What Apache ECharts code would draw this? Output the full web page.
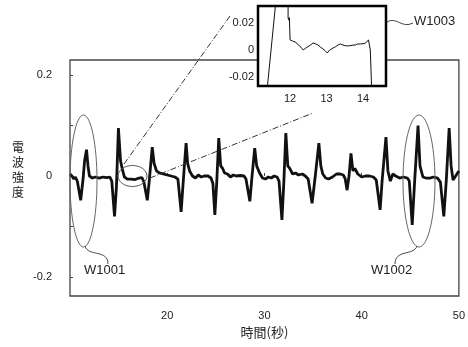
<!DOCTYPE html>
<html><head><meta charset="utf-8">
<script src="https://cdn.jsdelivr.net/npm/echarts@6/dist/echarts.min.js"></script>
<style>html,body{margin:0;padding:0;background:#fff}#c{width:468px;height:347px}</style>
</head><body><div id="c"></div>
<script>
// main waveform (time in s, intensity)
const mainT = [10.0,10.2,10.4,10.55,10.75,11.1,11.35,11.5,11.7,11.85,12.0,12.3,12.6,13.0,13.4,13.8,14.1,14.3,14.58,14.78,14.98,15.2,15.4,15.6,15.9,16.3,16.7,17.1,17.4,17.6,17.95,18.15,18.46,18.65,18.9,19.2,19.6,20.0,20.4,20.8,21.1,21.43,21.65,21.94,22.1,22.3,22.6,22.9,23.2,23.5,23.8,24.2,24.5,24.7,24.9,25.1,25.3,25.5,25.7,25.9,26.2,26.5,26.8,27.1,27.5,27.9,28.1,28.5,28.7,29.0,29.2,29.5,29.8,30.1,30.4,30.7,31.0,31.3,31.5,31.8,32.0,32.2,32.4,32.6,32.9,33.2,33.5,33.9,34.2,34.5,34.9,35.2,35.6,35.8,36.0,36.3,36.6,37.0,37.4,37.8,38.1,38.3,38.5,38.7,38.9,39.1,39.3,39.6,40.0,40.4,40.8,41.2,41.5,41.9,42.1,42.5,42.7,42.95,43.2,43.5,43.9,44.3,44.7,44.9,45.2,45.45,45.8,46.0,46.3,46.6,47.0,47.4,47.8,48.1,48.45,48.7,49.0,49.2,49.4,49.6,49.8,50.0];
const mainV = [0.004,0.0,-0.006,-0.002,-0.01,-0.048,-0.005,0.03,0.052,0.02,0.0,-0.004,-0.002,-0.004,-0.002,-0.003,-0.002,-0.01,-0.08,-0.02,0.095,0.03,0.012,-0.002,-0.006,-0.006,-0.007,-0.004,-0.003,-0.012,-0.048,-0.01,0.057,0.025,0.01,0.006,0.004,0.002,0.0,-0.002,-0.006,-0.071,-0.01,0.065,0.025,0.01,0.0,-0.004,0.002,-0.002,0.0,0.0,-0.004,-0.015,-0.077,-0.01,0.075,0.02,0.015,0.006,0.004,-0.002,0.002,0.0,0.001,0.0,-0.006,-0.05,-0.005,0.055,0.02,0.006,-0.004,-0.006,-0.002,-0.004,0.0,-0.002,-0.01,-0.087,-0.01,0.085,0.02,0.015,0.004,0.006,0.002,0.004,0.0,-0.006,-0.054,-0.005,0.065,0.02,0.004,-0.004,-0.006,-0.002,0.004,0.004,0.002,-0.005,-0.028,0.0,0.045,0.01,0.015,0.004,-0.002,0.0,0.0,-0.002,-0.008,-0.067,-0.01,0.077,0.01,-0.01,0.004,0.0,-0.004,-0.002,-0.004,-0.01,-0.097,-0.01,0.1,0.02,-0.002,-0.004,-0.004,-0.002,-0.004,-0.012,-0.08,-0.01,0.095,0.02,-0.008,-0.006,0.004,0.01];
// inset (enlarged) waveform
const insetT = [11.36,11.61,11.75,11.945,11.945,11.96,11.97,11.98,12.0,12.07,12.14,12.22,12.3,12.36,12.42,12.47,12.55,12.63,12.7,12.76,12.83,12.9,12.96,13.02,13.08,13.13,13.18,13.25,13.32,13.38,13.43,13.5,13.55,13.6,13.65,13.7,13.75,13.79,13.85,13.9,13.94,13.98,14.05,14.1,14.15,14.2,14.24];
const insetV = [-0.032,0.036,0.07,0.036,0.0237,0.025,0.022,0.024,0.0074,0.0066,0.0059,0.004,0.002,0.0,0.0012,0.0015,0.0035,0.0052,0.0045,0.0038,0.0022,0.0008,-0.0005,-0.0022,-0.0002,0.0008,0.0015,0.0025,0.0038,0.0044,0.0042,0.0032,0.0038,0.003,0.0042,0.0035,0.0046,0.0037,0.0044,0.0034,0.0045,0.0037,0.0048,0.0055,0.0074,0.0,-0.032];
// tick labels
const mainXTicks = [20,30,40,50];
const mainYTicks = [-0.2,0,0.2];
const insetXTicks = [12,13,14];
const insetYTicks = [-0.02,0,0.02];

const mainData = mainT.map((t,i)=>[t,mainV[i]]);
const insetData = insetT.map((t,i)=>[t,insetV[i]]);
const FONT = 'Liberation Sans';
const JP = 'Noto Sans CJK JP';
const lbl = {color:'#222', fontFamily:FONT, fontSize:11};

const chart = echarts.init(document.getElementById('c'), null, {renderer:'canvas'});
chart.setOption({
  animation:false,
  backgroundColor:'#fff',
  grid:[
    {left:70, right:8, top:60, bottom:51, show:true, borderColor:'#444', borderWidth:1.3, z:0},
    {left:258, top:6, width:128, height:80, show:true, borderColor:'#000', borderWidth:2.5, backgroundColor:'#fff', z:5}
  ],
  xAxis:[
    {type:'value', gridIndex:0, min:10, max:50, interval:10,
     axisLine:{show:false}, splitLine:{show:false},
     axisTick:{show:true, inside:true, length:3, customValues:[20,30,40], lineStyle:{color:'#444'}},
     axisLabel:Object.assign({margin:14, customValues:mainXTicks}, lbl),
     name:'時間(秒)', nameLocation:'middle', nameGap:27,
     nameTextStyle:{color:'#222', fontFamily:JP, fontSize:13}},
    {type:'value', gridIndex:1, min:11.12, max:14.63, z:6,
     axisLine:{show:false}, splitLine:{show:false}, axisTick:{show:false},
     axisLabel:Object.assign({margin:7, customValues:insetXTicks}, lbl)}
  ],
  yAxis:[
    {type:'value', gridIndex:0, min:-0.2376, max:0.2297,
     axisLine:{show:false}, splitLine:{show:false},
     axisTick:{show:true, inside:true, length:3, customValues:[-0.2,-0.1,0,0.1,0.2], lineStyle:{color:'#444'}},
     axisLabel:Object.assign({margin:18, customValues:mainYTicks, formatter:v=>v===0?'0':v.toFixed(1)}, lbl)},
    {type:'value', gridIndex:1, min:-0.0267, max:0.0326, z:6,
     axisLine:{show:false}, splitLine:{show:false}, axisTick:{show:false},
     axisLabel:Object.assign({margin:4, customValues:insetYTicks, formatter:v=>v===0?'0':v.toFixed(2)}, lbl)}
  ],
  series:[
    {type:'line', xAxisIndex:0, yAxisIndex:0, data:mainData, showSymbol:false, symbol:'none',
     lineStyle:{color:'#111', width:2.8}, clip:true, z:2},
    {type:'line', xAxisIndex:1, yAxisIndex:1, data:insetData, showSymbol:false, symbol:'none',
     lineStyle:{color:'#111', width:1}, clip:true, z:7}
  ],
  graphic:[
    {type:'text', left:12, top:140, z:10, style:{text:'電\n波\n強\n度', font:'12px "Noto Sans CJK JP"', fill:'#222', lineHeight:15, align:'left'}},
    {type:'ellipse', shape:{cx:83.5, cy:181, rx:13.5, ry:66}, z:10, style:{fill:'none', stroke:'#666', lineWidth:1}},
    {type:'ellipse', shape:{cx:419, cy:181, rx:16, ry:66}, z:10, style:{fill:'none', stroke:'#666', lineWidth:1}},
    {type:'ellipse', shape:{cx:132.5, cy:176, rx:14.5, ry:10.5}, z:10, style:{fill:'none', stroke:'#555', lineWidth:1}},
    {type:'bezierCurve', shape:{x1:85, y1:246, cpx1:88, cpy1:257, cpx2:108, cpy2:249, x2:108, y2:264}, z:10, style:{fill:'none', stroke:'#444', lineWidth:1}},
    {type:'bezierCurve', shape:{x1:417, y1:246, cpx1:414, cpy1:256, cpx2:395, cpy2:249, x2:395, y2:264}, z:10, style:{fill:'none', stroke:'#444', lineWidth:1}},
    {type:'bezierCurve', shape:{x1:387, y1:22, cpx1:396, cpy1:16, cpx2:402, cpy2:29, x2:413, y2:23}, z:10, style:{fill:'none', stroke:'#444', lineWidth:1}},
    {type:'line', shape:{x1:124, y1:164, x2:230, y2:16}, z:10, style:{stroke:'#333', lineWidth:1, lineDash:[6,2,1,2]}},
    {type:'line', shape:{x1:150, y1:178, x2:313, y2:113}, z:10, style:{stroke:'#333', lineWidth:1, lineDash:[6,2,1,2]}},
    {type:'text', left:84, top:264, z:10, style:{text:'W1001', font:'13px "Liberation Sans"', fill:'#222'}},
    {type:'text', left:371, top:264, z:10, style:{text:'W1002', font:'13px "Liberation Sans"', fill:'#222'}},
    {type:'text', left:414, top:15, z:10, style:{text:'W1003', font:'13px "Liberation Sans"', fill:'#222'}}
  ]
});
</script></body></html>
